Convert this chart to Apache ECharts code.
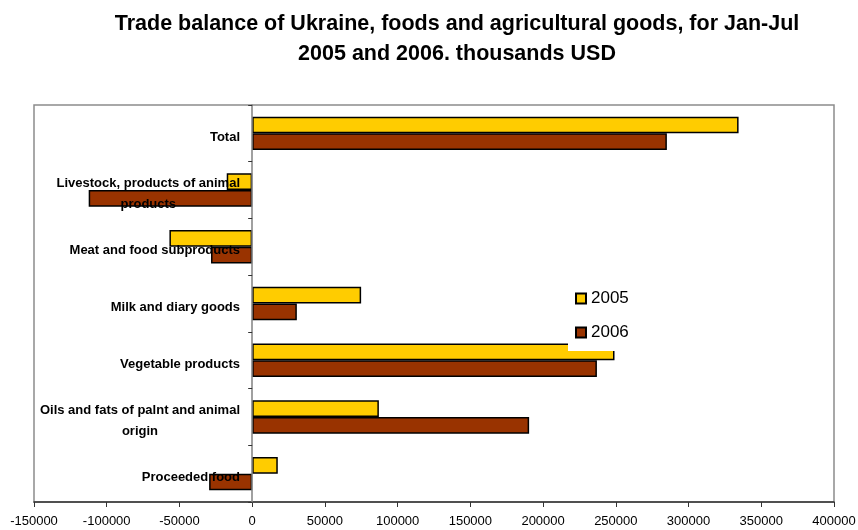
<!DOCTYPE html>
<html>
<head>
<meta charset="utf-8">
<script src="https://cdn.jsdelivr.net/npm/echarts@6/dist/echarts.min.js"></script>
<style>
  html, body { margin: 0; padding: 0; background: #fff; }
  #chart { width: 858px; height: 530px; }
</style>
</head>
<body>
<div id="chart"></div>
<script>
// Product groups, top to bottom
const categories = [
  'Total',
  'Livestock, products of animal\nproducts',
  'Meat and food subproducts',
  'Milk and diary goods',
  'Vegetable products',
  'Oils and fats of palnt and animal\norigin',
  'Proceeded food'
];

// Trade balance, thousands USD
const values2005 = [334400, -17500, -56900, 74900, 249100, 87100, 17600];
const values2006 = [285100, -112400, -28300, 30700, 237000, 190400, -29600];

const seriesNames = ['2005', '2006'];
const xTicks = { min: -150000, max: 400000, step: 50000 };

const chart = echarts.init(document.getElementById('chart'), null, { renderer: 'canvas' });

const labelFont = 'Liberation Sans, Arial, sans-serif';

// Grid edges in pixels; category labels sit just left of the zero line
const gridLeft = 34;
const zeroLabelRight = 240;

chart.setOption({
  animation: false,
  backgroundColor: '#fff',
  title: {
    text: 'Trade balance of Ukraine, foods and agricultural goods, for Jan-Jul\n2005 and 2006. thousands USD',
    left: 452,
    top: 4,
    textAlign: 'center',
    textStyle: {
      fontFamily: labelFont,
      fontSize: 21.5,
      fontWeight: 'bold',
      color: '#000',
      lineHeight: 30
    }
  },
  legend: {
    data: seriesNames,
    orient: 'vertical',
    left: 568,
    top: 280,
    padding: [10, 12, 10, 7],
    itemGap: 17,
    itemWidth: 10,
    itemHeight: 10,
    icon: 'rect',
    backgroundColor: '#fff',
    textStyle: { fontFamily: labelFont, fontSize: 17, color: '#000' }
  },
  grid: {
    left: gridLeft, right: 24, top: 105, bottom: 28,
    outerBoundsMode: 'none',
    containLabel: false,
    show: true,
    borderColor: '#8c8c8c',
    borderWidth: 1.5,
    backgroundColor: 'transparent'
  },
  xAxis: {
    type: 'value',
    min: xTicks.min,
    max: xTicks.max,
    interval: xTicks.step,
    axisLine: { show: true, lineStyle: { color: '#333', width: 1.5 } },
    axisTick: { show: true, length: 5, lineStyle: { color: '#333' } },
    splitLine: { show: false },
    axisLabel: {
      margin: 13,
      fontFamily: labelFont,
      fontSize: 13,
      color: '#000',
      formatter: function (v) { return String(v); }
    }
  },
  yAxis: {
    type: 'category',
    inverse: true,
    data: categories,
    z: 5,
    axisLine: { show: true, onZero: true, lineStyle: { color: '#808080', width: 1.5 } },
    axisTick: { show: true, length: 4, lineStyle: { color: '#333' } },
    axisLabel: {
      margin: gridLeft - zeroLabelRight,
      interval: 0,
      hideOverlap: false,
      padding: [8, 0, 0, 0],
      formatter: function (v) {
        return v.split('\n').map(function (s) { return '{c|' + s + '}'; }).join('\n');
      },
      rich: {
        c: {
          align: 'center',
          fontFamily: labelFont,
          fontSize: 13,
          fontWeight: 'bold',
          color: '#000',
          lineHeight: 21
        }
      }
    }
  },
  series: [
    {
      name: seriesNames[0],
      type: 'bar',
      data: values2005,
      barGap: '0%',
      barCategoryGap: '41%',
      z: 1,
      itemStyle: { color: '#FFCC00', borderColor: '#000', borderWidth: 1.5 }
    },
    {
      name: seriesNames[1],
      type: 'bar',
      data: values2006,
      barGap: '0%',
      barCategoryGap: '41%',
      z: 1,
      itemStyle: { color: '#993300', borderColor: '#000', borderWidth: 1.5 }
    }
  ]
});
</script>
</body>
</html>
